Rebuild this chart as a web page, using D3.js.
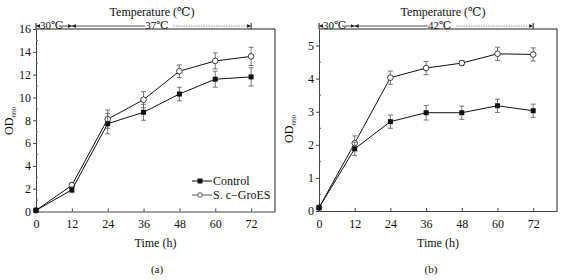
<!DOCTYPE html>
<html>
<head>
<meta charset="utf-8">
<script src="https://cdn.jsdelivr.net/npm/d3@7"></script>
<style>
  body { margin: 0; background: #fff; }
  svg text { font-family: "Liberation Serif", "Times New Roman", "DejaVu Serif", serif !important; fill: #111; }
</style>
</head>
<body>
<script>
// data
var times = [0, 12, 24, 36, 48, 60, 72];

var ctrlA    = [0.1, 1.9, 7.7, 8.7, 10.3, 11.6, 11.8];
var ctrlAErr = [0.1, 0.25, 0.9, 0.7, 0.6, 0.7, 0.8];
var groA     = [0.1, 2.3, 8.1, 9.8, 12.3, 13.2, 13.6];
var groAErr  = [0.1, 0.25, 0.8, 0.7, 0.55, 0.7, 0.8];

var ctrlB    = [0.1, 1.88, 2.7, 2.97, 2.97, 3.18, 3.03];
var ctrlBErr = [0.05, 0.2, 0.2, 0.22, 0.2, 0.2, 0.2];
var groB     = [0.1, 2.05, 4.03, 4.32, 4.47, 4.75, 4.73];
var groBErr  = [0.05, 0.22, 0.2, 0.2, 0.07, 0.2, 0.2];

var xTicks  = [0, 12, 24, 36, 48, 60, 72];
var yTicksA = [0, 2, 4, 6, 8, 10, 12, 14, 16];
var yTicksB = [0, 1, 2, 3, 4, 5];

var w = 561, h = 280;
var serif = "'Liberation Serif', 'Times New Roman', serif";

var svg = d3.select("body")
            .append("svg")
            .attr("width", w)
            .attr("height", h)
            .attr("font-family", serif);

var defs = svg.append("defs");
defs.append("marker")
    .attr("id", "arr")
    .attr("viewBox", "0 0 6 6")
    .attr("refX", 6).attr("refY", 3)
    .attr("markerWidth", 5).attr("markerHeight", 5)
    .attr("orient", "auto-start-reverse")
    .append("path")
    .attr("d", "M0,0 L6,3 L0,6 Z")
    .attr("fill", "#222");

function drawPanel(opt)
{
    var x = d3.scaleLinear().domain([0, 80]).range([opt.left, opt.right]);
    var y = d3.scaleLinear().domain([0, opt.ymax]).range([opt.bottom, opt.top]);

    var g = svg.append("g");

    // frame (top + right)
    g.append("path")
     .attr("d", "M" + x(0) + "," + y(opt.ymax) + "H" + x(80) + "V" + y(0))
     .attr("fill", "none").attr("stroke", "#222").attr("stroke-width", 1);

    // x axis, ticks pointing in
    var xa = g.append("g")
              .attr("transform", "translate(0," + y(0) + ")")
              .call(d3.axisBottom(x).tickValues(opt.xTicks).tickFormat(d3.format("d"))
                      .tickSizeInner(-3).tickSizeOuter(0).tickPadding(6));
    xa.attr("font-family", serif);
    xa.select(".domain").attr("stroke", "#444");
    xa.selectAll(".tick line").attr("stroke", "#444");
    xa.selectAll("text").style("font-size", "12px").attr("dy", "0.9em");

    // y axis, ticks pointing out
    var ya = g.append("g")
              .attr("transform", "translate(" + x(0) + ",0)")
              .call(d3.axisLeft(y).tickValues(opt.yTicks).tickFormat(d3.format("d"))
                      .tickSizeInner(3).tickSizeOuter(0).tickPadding(2));
    ya.attr("font-family", serif);
    ya.select(".domain").attr("stroke", "#444");
    ya.selectAll(".tick line").attr("stroke", "#444");
    ya.selectAll("text").style("font-size", "12px");

    // minor ticks on y, inward
    g.selectAll(".ymin")
     .data(opt.yMinor)
     .enter().append("line")
     .attr("x1", x(0)).attr("x2", x(0) + 2)
     .attr("y1", function(d) { return y(d); })
     .attr("y2", function(d) { return y(d); })
     .attr("stroke", "#666");

    // axis titles
    g.append("text")
     .attr("x", (opt.left + opt.right) / 2).attr("y", 247)
     .attr("text-anchor", "middle").style("font-size", "12px")
     .text("Time (h)");

    var od = g.append("text")
              .attr("transform", "translate(" + opt.odX + "," + opt.odY + ") rotate(-90)")
              .attr("text-anchor", "middle").style("font-size", "12px");
    od.append("tspan").text("OD");
    od.append("tspan").attr("dy", 3).style("font-size", "7px").text("660");

    g.append("text")
     .attr("x", opt.capX).attr("y", 273)
     .attr("text-anchor", "middle").style("font-size", "11px")
     .text(opt.caption);

    // temperature annotation
    g.append("text")
     .attr("x", opt.titleX).attr("y", 16)
     .attr("text-anchor", "middle").style("font-size", "12px")
     .text("Temperature (\u2103)");

    var ay = opt.top - 3;
    g.append("line")
     .attr("x1", x(0)).attr("x2", x(12)).attr("y1", ay).attr("y2", ay)
     .attr("stroke", "#222").attr("stroke-width", 0.8)
     .attr("marker-start", "url(#arr)").attr("marker-end", "url(#arr)");
    g.append("rect")
     .attr("x", x(0) + 4).attr("y", ay - 8).attr("width", 19).attr("height", 10)
     .attr("fill", "#fff");
    g.append("text")
     .attr("x", x(0) + 4).attr("y", ay + 3).style("font-size", "11px")
     .text("30\u2103");
    g.append("line")
     .attr("x1", x(12)).attr("x2", x(36.5)).attr("y1", ay).attr("y2", ay)
     .attr("stroke", "#222").attr("stroke-width", 0.8)
     .attr("marker-start", "url(#arr)");
    g.append("text")
     .attr("x", x(36.6)).attr("y", ay + 3).style("font-size", "11px")
     .text(opt.hot);
    g.append("line")
     .attr("x1", x(46)).attr("x2", x(72)).attr("y1", ay).attr("y2", ay)
     .attr("stroke", "#777").attr("stroke-width", 0.8)
     .attr("stroke-dasharray", "1.5,1")
     .attr("marker-end", "url(#arr)");
    g.append("line")
     .attr("x1", x(72)).attr("x2", x(72)).attr("y1", ay - 3).attr("y2", ay + 3)
     .attr("stroke", "#222");
    g.append("line")
     .attr("x1", x(0)).attr("x2", x(0)).attr("y1", ay - 3).attr("y2", ay + 3)
     .attr("stroke", "#222");

    // series
    var series = [
        { vals: opt.gro, err: opt.groErr, filled: false },
        { vals: opt.ctrl, err: opt.ctrlErr, filled: true }
    ];

    var line = d3.line()
                 .x(function(d) { return x(d[0]); })
                 .y(function(d) { return y(d[1]); });

    series.forEach(function(s) {
        var pts = times.map(function(t, i) { return [t, s.vals[i], s.err[i]]; });

        g.append("path")
         .datum(pts)
         .attr("d", line)
         .attr("fill", "none").attr("stroke", "#111").attr("stroke-width", 1);

        var eb = g.append("g").selectAll("g")
                  .data(pts.slice(1))
                  .enter().append("g")
                  .attr("stroke", "#555").attr("stroke-width", 0.8);
        eb.append("line")
          .attr("x1", function(d) { return x(d[0]); })
          .attr("x2", function(d) { return x(d[0]); })
          .attr("y1", function(d) { return y(d[1] - d[2]); })
          .attr("y2", function(d) { return y(d[1] + d[2]); });
        eb.append("line")
          .attr("x1", function(d) { return x(d[0]) - 2.5; })
          .attr("x2", function(d) { return x(d[0]) + 2.5; })
          .attr("y1", function(d) { return y(d[1] + d[2]); })
          .attr("y2", function(d) { return y(d[1] + d[2]); });
        eb.append("line")
          .attr("x1", function(d) { return x(d[0]) - 2.5; })
          .attr("x2", function(d) { return x(d[0]) + 2.5; })
          .attr("y1", function(d) { return y(d[1] - d[2]); })
          .attr("y2", function(d) { return y(d[1] - d[2]); });

        if (s.filled) {
            g.selectAll(null)
             .data(pts).enter().append("rect")
             .attr("x", function(d) { return x(d[0]) - 2.5; })
             .attr("y", function(d) { return y(d[1]) - 2.5; })
             .attr("width", 5).attr("height", 5)
             .attr("fill", "#111");
        } else {
            g.selectAll(null)
             .data(pts).enter().append("circle")
             .attr("cx", function(d) { return x(d[0]); })
             .attr("cy", function(d) { return y(d[1]); })
             .attr("r", 2.8)
             .attr("fill", "#fff").attr("stroke", "#111").attr("stroke-width", 0.8);
        }
    });

    return g;
}

var gA = drawPanel({
    left: 36, right: 275, top: 29, bottom: 211.5, ymax: 16,
    xTicks: xTicks, yTicks: yTicksA, yMinor: [1, 3, 5, 7, 9, 11, 13, 15],
    ctrl: ctrlA, ctrlErr: ctrlAErr, gro: groA, groErr: groAErr,
    odX: 13, odY: 121, capX: 157, caption: "(a)",
    titleX: 152, hot: "37\u2103"
});

drawPanel({
    left: 319, right: 557, top: 29, bottom: 211, ymax: 5.5,
    xTicks: xTicks, yTicks: yTicksB, yMinor: [0.5, 1.5, 2.5, 3.5, 4.5],
    ctrl: ctrlB, ctrlErr: ctrlBErr, gro: groB, groErr: groBErr,
    odX: 293, odY: 129, capX: 431, caption: "(b)",
    titleX: 443, hot: "42\u2103"
});

// legend (panel a)
var legend = gA.append("g");
legend.append("line").attr("x1", 192).attr("x2", 212).attr("y1", 181).attr("y2", 181)
      .attr("stroke", "#111");
legend.append("rect").attr("x", 197.5).attr("y", 178.5).attr("width", 5).attr("height", 5)
      .attr("fill", "#111");
legend.append("text").attr("x", 213).attr("y", 185).style("font-size", "12px").text("Control");
legend.append("line").attr("x1", 192).attr("x2", 212).attr("y1", 195).attr("y2", 195)
      .attr("stroke", "#555");
legend.append("circle").attr("cx", 200).attr("cy", 195).attr("r", 2.3)
      .attr("fill", "#fff").attr("stroke", "#555");
legend.append("text").attr("x", 213).attr("y", 199).style("font-size", "12px").text("S. c\u2212GroES");
</script>
</body>
</html>
